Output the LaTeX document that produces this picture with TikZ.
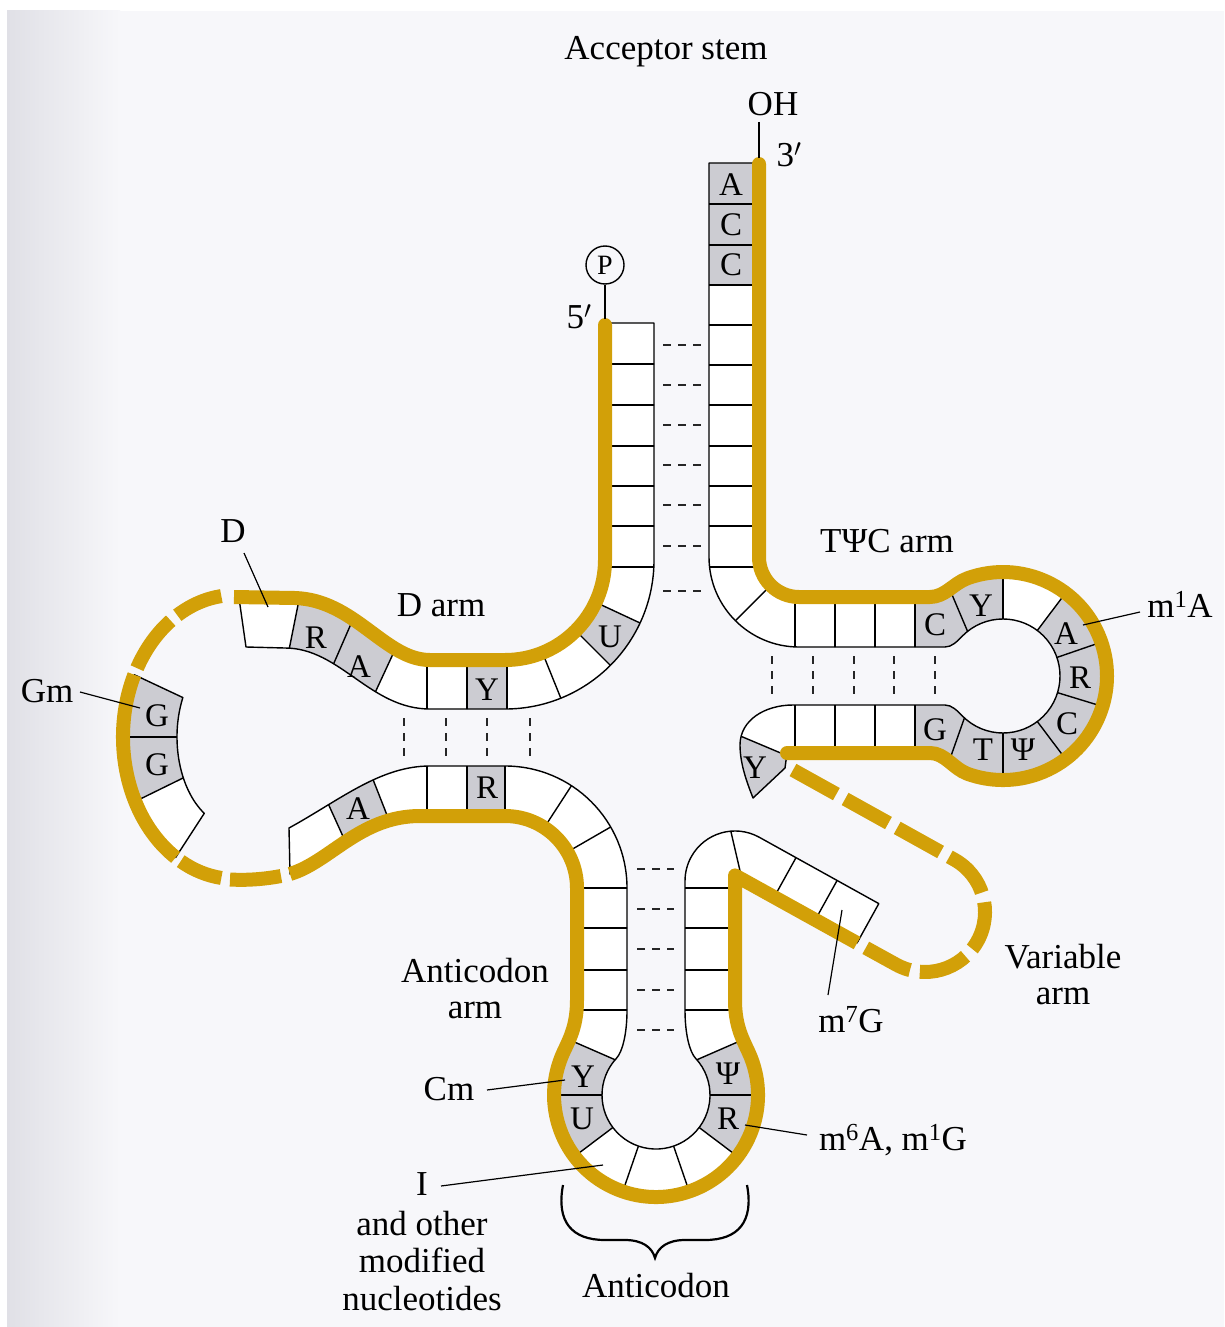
\documentclass[tikz,border=0pt]{standalone}
\usepackage{fontspec}
\setmainfont{Liberation Serif}
\usetikzlibrary{calc}
\definecolor{gold}{RGB}{210,160,8}
\definecolor{boxgray}{RGB}{204,204,210}
\definecolor{panel}{RGB}{247,247,250}
\definecolor{edgegray}{RGB}{224,224,230}
\tikzset{
  lbl/.style={font=\fontsize{35}{38}\selectfont, inner sep=0pt, anchor=base},
  bl/.style={font=\fontsize{33}{36}\selectfont, inner sep=0pt},
  thinl/.style={line width=1.4pt, draw=black, line join=round},
  ptr/.style={line width=1.2pt, draw=black},
  goldl/.style={draw=gold, line width=14pt, line cap=butt, line join=round},
  pairl/.style={line width=1.8pt, draw=black!85, dash pattern=on 8pt off 7pt},
}
\newcommand\bandApath{(605,323) -- (605,560) arc[start angle=0,end angle=90,radius=100] -- (430,660) .. controls (385,660) and (355,600) .. (295,598) -- (239,598) -- (246,647) -- (285,648) .. controls (340,648) and (370,709) .. (430,709) -- (505,709) arc[start angle=90,end angle=0,radius=149] -- (654,323) -- cycle}
\newcommand\bandBpath{($(E)+(-154:112 and 142)$) arc[start angle=-154,end angle=-238,x radius=112,y radius=142] -- ($(E)+(-238:58 and 90)$) arc[start angle=-238,end angle=-154,x radius=58,y radius=90] -- cycle}
\newcommand\bandCpath{(290,874) .. controls (330,862) and (360,816) .. (420,816) -- (505,816) arc[start angle=-90,end angle=0,radius=72] -- (577,1000) .. controls (577,1025) and (570,1038.3) .. (563.6,1051.9) arc[start angle=205,end angle=-25,radius=102] .. controls (742,1038) and (735,1025) .. (735,1000) -- (735,875.4) -- (857,943) -- (878.8,903.6) -- (759.25,837.25) arc[start angle=-61,end angle=-180,radius=50] -- (685,1010) .. controls (685,1035) and (690,1052.4) .. (695.5,1058.2) arc[start angle=-43,end angle=223,radius=54] .. controls (622,1052.4) and (627,1035) .. (627,1010) -- (627,888) arc[start angle=0,end angle=-90,radius=122] -- (430,766) .. controls (380,766) and (340,800) .. (289,828) -- cycle}
\newcommand\bandDpath{(759,163) -- (759,557) arc[start angle=180,end angle=90,radius=40] -- (930,597) .. controls (945,597) and (953.3,583.4) .. (967.4,578.3) arc[start angle=-110,end angle=110,radius=104] .. controls (953.3,768.6) and (945,753) .. (930,753) -- (787,753) -- (785,768) -- (753,798) .. controls (748,785) and (740,765) .. (740,745) .. controls (740,720) and (765,705) .. (793,705) -- (945,705) .. controls (952,705) and (957,710.6) .. (962.7,716.3) arc[start angle=135,end angle=-135,radius=57] .. controls (957,641.4) and (952,647) .. (945,647) -- (799,647) arc[start angle=90,end angle=180,radius=90] -- (709,163) -- cycle}
\begin{document}
\begin{tikzpicture}[x=1pt,y=-1pt]
\useasboundingbox (0,0) rectangle (1224,1327);
% background
\fill[white] (0,0) rectangle (1224,1327);
\fill[panel] (7,11) rectangle (1224,1327);
\shade[left color=edgegray, right color=panel] (7,11) rectangle (120,1327);
\coordinate (E) at (235,737);

% ---------- band A: acceptor 5' strand + D arm top strand
\begin{scope}
\clip \bandApath;
\fill[white] (200,300) rectangle (700,760);
\fill[boxgray] (505,560) -- ($(505,560)+(25:200)$) arc[start angle=25,end angle=45,radius=200] -- cycle;
\fill[boxgray] (467,640) rectangle (507,730);
\fill[boxgray] (319.6,696) -- (355.4,613.7) -- (399,641) -- (361,723) -- cycle;
\fill[boxgray] (283.7,676.6) -- (301.3,588.4) -- (355.4,613.7) -- (319.6,696) -- cycle;
\foreach \y in {364,405,446,486,526,567} \draw[thinl] (590,\y) -- (670,\y);
\foreach \a in {25,45,68} \draw[thinl] (505,560) -- ($(505,560)+(\a:200)$);
\foreach \x in {427,467,507} \draw[thinl] (\x,640) -- (\x,730);
\draw[thinl] (361,723) -- (399,641);
\draw[thinl] (319.6,696) -- (355.4,613.7);
\draw[thinl] (283.7,676.6) -- (301.3,588.4);
\end{scope}
\draw[thinl] \bandApath;

% ---------- band B: D loop G G
\begin{scope}
\clip \bandBpath;
\fill[white] (100,600) rectangle (260,880);
\fill[boxgray] ($(E)+(-154:112 and 142)$) arc[start angle=-154,end angle=-207,x radius=112,y radius=142] -- ($(E)+(-207:58 and 90)$) arc[start angle=-207,end angle=-154,x radius=58,y radius=90] -- cycle;
\foreach \ang in {-180,-207} \draw[thinl] ($(E)+(\ang:58 and 90)$) -- ($(E)+(\ang:112 and 142)$);
\end{scope}
\draw[thinl] \bandBpath;

% ---------- band C: D bottom strand + anticodon arm + variable arm
\begin{scope}
\clip \bandCpath;
\fill[white] (280,740) rectangle (900,1210);
\fill[boxgray] (319.9,785.5) -- (357.1,867.5) -- (396,838) -- (363,754) -- cycle;
\fill[boxgray] (467,750) rectangle (505,830);
\fill[boxgray] (636.3,1069) -- (553.8,1033) -- (520,1095) -- (656,1095) -- cycle;
\fill[boxgray] (656,1095) -- (520,1095) -- ($(656,1095)+(143:140)$) -- cycle;
\fill[boxgray] (675.7,1069) -- (758.2,1033) -- (792,1095) -- (656,1095) -- cycle;
\fill[boxgray] (656,1095) -- (792,1095) -- ($(656,1095)+(37:140)$) -- cycle;
\draw[thinl] (319.9,785.5) -- (357.1,867.5);
\draw[thinl] (363,754) -- (396,838);
\foreach \x in {427,467,505} \draw[thinl] (\x,750) -- (\x,830);
\foreach \a in {-57,-30} \draw[thinl] ($(505,888)+(\a:40)$) -- ($(505,888)+(\a:150)$);
\foreach \y in {888,928,970,1010} {\draw[thinl] (565,\y) -- (640,\y); \draw[thinl] (675,\y) -- (745,\y);}
\draw[thinl] (636.3,1069) -- (553.8,1033);
\draw[thinl] (675.7,1069) -- (758.2,1033);
\foreach \a in {0,37,71,109,143,180} \draw[thinl] ($(656,1095)+(\a:40)$) -- ($(656,1095)+(\a:125)$);
\draw[thinl] (728,819) -- (744,888);
\draw[thinl] (803.3,844.5) -- (766.9,910.1);
\draw[thinl] (844.4,867.3) -- (808,932.9);
\end{scope}
\draw[thinl] \bandCpath;

% ---------- band D: acceptor 3' strand + TPsiC arm
\begin{scope}
\clip \bandDpath;
\fill[white] (690,150) rectangle (1120,820);
\fill[boxgray] (700,150) rectangle (770,285);
\fill[boxgray] (915,560) -- (942.4,572) -- (977.6,655) -- (915,660) -- cycle;
\fill[boxgray] (942.4,572) -- (1003,540) -- (1003,640) -- (977.6,655) -- cycle;
\fill[boxgray] (1003,676) -- ($(1003,676)+(-53:130)$) arc[start angle=-53,end angle=90,radius=130] -- cycle;
\fill[boxgray] (1003,700) -- (1003,810) -- (942.5,780) -- (972.5,695) -- cycle;
\fill[boxgray] (972.5,695) -- (942.5,780) -- (915,780) -- (915,695) -- cycle;
\fill[boxgray] (719,727) -- (802,762) -- (790,815) -- (730,815) -- cycle;
\foreach \y in {204,245,285,325,365,405,446,486,526,567} \draw[thinl] (700,\y) -- (770,\y);
\draw[thinl] ($(799,557)+(135:30)$) -- ($(799,557)+(135:110)$);
\foreach \x in {795,835,875,915} {\draw[thinl] (\x,585) -- (\x,660); \draw[thinl] (\x,695) -- (\x,765);}
\draw[thinl] (942.4,572) -- (977.6,655);
\draw[thinl] (1003,540) -- (1003,640);
\foreach \a in {-53,-19,17,53} \draw[thinl] ($(1003,676)+(\a:40)$) -- ($(1003,676)+(\a:130)$);
\draw[thinl] (1003,700) -- (1003,810);
\draw[thinl] (972.5,695) -- (942.5,780);
\draw[thinl] (719,727) -- (802,762);
\end{scope}
\draw[thinl] \bandDpath;

% ---------- base-pair dashes
\foreach \y in {345,385,425,465,505,546,591} \draw[pairl] (663,\y) -- (701,\y);
\foreach \x in {404,446,487,530} \draw[pairl] (\x,718) -- (\x,757);
\foreach \x in {772,813,854,894,935} \draw[pairl] (\x,656) -- (\x,695);
\foreach \y in {869,909,949,990,1030} \draw[pairl] (637,\y) -- (674,\y);

% ---------- gold backbone
\draw[goldl] (605,325) -- (605,560) arc[start angle=0,end angle=90,radius=100] -- (430,660) .. controls (385,660) and (355,600) .. (295,598) -- (234,597);
\fill[gold] (605,325) circle[radius=7];
\draw[goldl] ($(E)+(-97:112 and 142)$) arc[start angle=-97,end angle=-121,x radius=112,y radius=142];
\draw[goldl] ($(E)+(-125:112 and 142)$) arc[start angle=-125,end angle=-151,x radius=112,y radius=142];
\draw[goldl] ($(E)+(-154:112 and 142)$) arc[start angle=-154,end angle=-238,x radius=112,y radius=142];
\draw[goldl] ($(E)+(-241:112 and 142)$) arc[start angle=-241,end angle=-263,x radius=112,y radius=142];
\draw[goldl] (230,879.5) .. controls (248,880.5) and (265,879) .. (281,876);
\draw[goldl] (290,874) .. controls (330,862) and (360,816) .. (420,816) -- (505,816) arc[start angle=-90,end angle=0,radius=72] -- (577,1000) .. controls (577,1025) and (570,1038.3) .. (563.6,1051.9) arc[start angle=205,end angle=-25,radius=102] .. controls (742,1038) and (735,1025) .. (735,1000) -- (735,875.4) -- (857,943);
\draw[goldl] (759,164) -- (759,557) arc[start angle=180,end angle=90,radius=40] -- (930,597) .. controls (945,597) and (953.3,583.4) .. (967.4,578.3) arc[start angle=-110,end angle=110,radius=104] .. controls (953.3,768.6) and (945,753) .. (930,753) -- (787,753);
\fill[gold] (759,164) circle[radius=7];
\fill[gold] (787,753) circle[radius=7];
\draw[goldl, dash pattern=on 49.6pt off 10pt] (793,770) -- (954.1,859.5) arc[start angle=-61,end angle=119,radius=60] -- (857,943);

% ---------- ends: phosphate and OH
\node[circle, draw, line width=1.4pt, minimum size=38pt, inner sep=0pt, font=\fontsize{28}{30}\selectfont] (pc) at (605,265) {P};
\coordinate (p5end) at (605,319);
\draw[thinl] (pc) -- (p5end);
\coordinate (ohA) at (759,122);
\coordinate (ohB) at (759,158);
\draw[thinl] (ohA) -- (ohB);

% ---------- letters in boxes
\node[bl] (bA1) at (731,185) {A};
\node[bl] (bC1) at (731,225) {C};
\node[bl] (bC2) at (731,265) {C};
\node[bl] (dR) at (316,638) {R};
\node[bl] (dA) at (359,667) {A};
\node[bl] (dY) at (487,690) {Y};
\node[bl] (dU) at (610,637) {U};
\node[bl] (gG1) at (157,716) {G};
\node[bl] (gG2) at (157,765) {G};
\node[bl] (bA) at (358,809) {A};
\node[bl] (bR) at (487,788) {R};
\node[bl] (aY) at (583,1077) {Y};
\node[bl] (aU) at (582,1119) {U};
\node[bl] (aPsi) at (728,1074) {Ψ};
\node[bl] (aR) at (728,1119) {R};
\node[bl] (tC) at (935,625) {C};
\node[bl] (tY) at (981,606) {Y};
\node[bl] (tA) at (1066,634) {A};
\node[bl] (tR) at (1080,678) {R};
\node[bl] (tC2) at (1067,724) {C};
\node[bl] (tPsi) at (1023,750) {Ψ};
\node[bl] (tT) at (983,750) {T};
\node[bl] (tG) at (935,730) {G};
\node[bl] (tY2) at (755,768) {Y};

% ---------- labels
\node[lbl] (acc) at (666,60) {Acceptor stem};
\node[lbl] (oh) at (773,116) {OH};
\node[lbl] (three) at (789,166) {3$'$};
\node[lbl] (five) at (579,328) {5$'$};
\node[lbl] (dl) at (233,542) {D};
\node[lbl] (darm) at (441,616) {D arm};
\node[lbl] (tpc) at (887,552) {TΨC arm};
\node[lbl] (m1a) at (1180,617) {m\textsuperscript{1}A};
\node[lbl] (gm) at (47,702) {Gm};
\node[lbl] (var1) at (1063,968) {Variable};
\node[lbl] (var2) at (1063,1004) {arm};
\node[lbl] (ac1) at (475,982) {Anticodon};
\node[lbl] (ac2) at (475,1018) {arm};
\node[lbl] (m7g) at (851,1032) {m\textsuperscript{7}G};
\node[lbl] (cm) at (449,1100) {Cm};
\node[lbl] (m6a) at (893,1150) {m\textsuperscript{6}A, m\textsuperscript{1}G};
\node[lbl] (inode) at (422,1195) {I};
\node[lbl] (ao1) at (422,1235) {and other};
\node[lbl] (ao2) at (422,1272) {modified};
\node[lbl] (ao3) at (422,1310) {nucleotides};
\node[lbl] (acb) at (656,1297) {Anticodon};

% ---------- pointer lines
\coordinate (dlS) at (244,553); \coordinate (dlE) at (268,607);
\draw[ptr] (dlS) -- (dlE);
\coordinate (gmS) at (80,692); \coordinate (gmE) at (140,708);
\draw[ptr] (gmS) -- (gmE);
\coordinate (m1aS) at (1140,612); \coordinate (m1aE) at (1083,625);
\draw[ptr] (m1aS) -- (m1aE);
\coordinate (m7gS) at (828,995); \coordinate (m7gE) at (842,910);
\draw[ptr] (m7gS) -- (m7gE);
\coordinate (cmS) at (487,1090); \coordinate (cmE) at (565,1080);
\draw[ptr] (cmS) -- (cmE);
\coordinate (m6aS) at (807,1135); \coordinate (m6aE) at (745,1125);
\draw[ptr] (m6aS) -- (m6aE);
\coordinate (iS) at (441,1186); \coordinate (iE) at (603,1165);
\draw[ptr] (iS) -- (iE);

% ---------- anticodon brace
\draw[line width=2.2pt] (563,1185) .. controls (556,1222) and (572,1240) .. (605,1240) -- (625,1240) .. controls (642,1240) and (652,1247) .. (655,1258) .. controls (658,1247) and (668,1240) .. (685,1240) -- (705,1240) .. controls (738,1240) and (754,1222) .. (747,1185);
\end{tikzpicture}
\end{document}
